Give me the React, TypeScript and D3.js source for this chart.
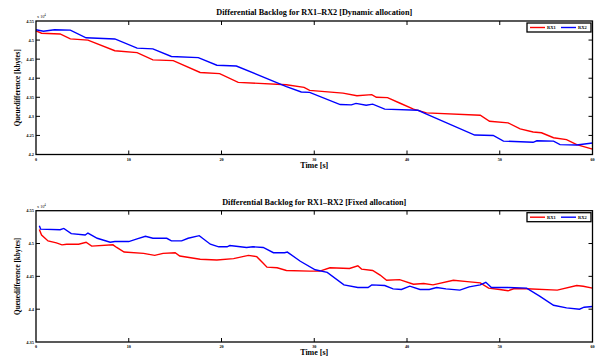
import * as d3 from "d3";
import React, { useEffect, useRef } from "react";

// Dynamic allocation (values x 10^4 kbytes)
const dynTimeRX1 = [0, 0.6, 2.6, 3.7, 5.6, 8.5, 10.9, 12.6, 14.8, 17.7, 19.8, 21.8, 27, 28.9, 29.5, 33.1, 34.6, 36.2, 36.7, 37.9, 39.2, 40.7, 42.1, 47.9, 48.9, 50.9, 52.2, 53.6, 54.5, 55.8, 57.2, 58.3, 60];
const dynRX1 = [4.524, 4.518, 4.516, 4.503, 4.5, 4.472, 4.467, 4.448, 4.446, 4.415, 4.412, 4.389, 4.383, 4.376, 4.368, 4.361, 4.354, 4.357, 4.35, 4.349, 4.335, 4.319, 4.309, 4.303, 4.287, 4.283, 4.267, 4.259, 4.257, 4.244, 4.239, 4.226, 4.214];
const dynTimeRX2 = [0, 0.8, 2, 3.7, 5.4, 8.5, 10.9, 12.6, 14.6, 17.5, 19.5, 21.6, 27, 28.6, 29.5, 32.8, 34.0, 34.5, 35.6, 36.3, 37.6, 41.2, 41.8, 47.3, 49.3, 50.4, 53.6, 54.0, 55.8, 56.5, 58.3, 60];
const dynRX2 = [4.527, 4.523, 4.527, 4.526, 4.506, 4.503, 4.479, 4.477, 4.457, 4.454, 4.434, 4.432, 4.378, 4.364, 4.363, 4.331, 4.33, 4.334, 4.329, 4.332, 4.319, 4.316, 4.309, 4.251, 4.25, 4.235, 4.232, 4.236, 4.235, 4.226, 4.225, 4.23];

// Fixed allocation (values x 10^4 kbytes)
const fixTimeRX1 = [0.36, 0.6, 1.3, 2.2, 2.8, 3.3, 4.6, 5.4, 6.0, 8.3, 8.7, 9.5, 11.6, 12.8, 13.7, 15.0, 15.5, 17.7, 19.5, 21.3, 22.9, 23.8, 24.5, 24.9, 26, 27, 29.5, 30.6, 31.7, 33.8, 34.7, 35.1, 36.3, 37.1, 37.8, 39.2, 40.7, 41.8, 42.8, 45.0, 46.5, 47.9, 48.8, 50.0, 50.9, 51.5, 52.9, 56.2, 58.3, 59.0, 60];
const fixRX1 = [4.5215, 4.513, 4.504, 4.501, 4.498, 4.499, 4.499, 4.502, 4.496, 4.498, 4.494, 4.487, 4.485, 4.482, 4.485, 4.486, 4.481, 4.476, 4.475, 4.477, 4.482, 4.48, 4.47, 4.464, 4.463, 4.459, 4.458, 4.458, 4.463, 4.462, 4.466, 4.461, 4.459, 4.452, 4.444, 4.445, 4.438, 4.439, 4.437, 4.444, 4.442, 4.44, 4.432, 4.43, 4.428, 4.431, 4.431, 4.429, 4.436, 4.435, 4.432];
const fixTimeRX2 = [0.36, 0.5, 2.6, 3.0, 3.8, 5.3, 5.6, 6.6, 8.0, 8.5, 10, 10.9, 11.8, 12.6, 14.1, 14.6, 15.7, 16.4, 17.6, 18.8, 19.7, 20.6, 20.9, 22.7, 23.4, 24.5, 25.6, 26.8, 27.1, 28.5, 30.1, 31.4, 33.2, 34.7, 35.8, 36.2, 37.6, 38.5, 39.4, 40.3, 41.4, 42.4, 43.2, 44.2, 45.7, 46.7, 47.9, 48.5, 49.1, 50.9, 52.9, 54.3, 55.8, 57.2, 58.6, 59.1, 60];
const fixRX2 = [4.527, 4.522, 4.521, 4.523, 4.515, 4.513, 4.516, 4.508, 4.502, 4.503, 4.503, 4.507, 4.511, 4.508, 4.508, 4.504, 4.504, 4.508, 4.512, 4.499, 4.495, 4.495, 4.497, 4.494, 4.495, 4.494, 4.486, 4.486, 4.487, 4.473, 4.46, 4.456, 4.437, 4.433, 4.433, 4.437, 4.436, 4.431, 4.43, 4.435, 4.43, 4.43, 4.433, 4.431, 4.429, 4.434, 4.437, 4.441, 4.433, 4.433, 4.432, 4.42, 4.406, 4.402, 4.4, 4.403, 4.404];

const xTicks = [0, 10, 20, 30, 40, 50, 60];
const dynYTicks = [4.2, 4.25, 4.3, 4.35, 4.4, 4.45, 4.5, 4.55];
const fixYTicks = [4.35, 4.4, 4.45, 4.5, 4.55];
const seriesNames = ["RX1", "RX2"];
const seriesColors = ["#ff0000", "#0000ff"];

const FONT = "'Liberation Serif', 'Times New Roman', serif";

interface PanelProps {
  top: number;
  bottom: number;
  title: string;
  yDomain: [number, number];
  yTicks: number[];
  t1: number[];
  v1: number[];
  t2: number[];
  v2: number[];
}

function Panel({ top, bottom, title, yDomain, yTicks, t1, v1, t2, v2 }: PanelProps) {
  const gRef = useRef<SVGGElement>(null);

  useEffect(() => {
    if (!gRef.current) return;
    const left = 36;
    const right = 592.5;
    const g = d3.select(gRef.current);
    g.selectAll("*").remove();

    const x = d3.scaleLinear([0, 60], [left, right]);
    const y = d3.scaleLinear(yDomain, [bottom, top]);

    // title
    g.append("text")
      .attr("x", (left + right) / 2)
      .attr("y", top - 6)
      .attr("text-anchor", "middle")
      .attr("font-family", FONT)
      .attr("font-weight", "bold")
      .attr("font-size", 8.2)
      .text(title);

    // exponent label
    g.append("text")
      .attr("x", left + 1)
      .attr("y", top - 3)
      .attr("font-family", FONT)
      .attr("font-size", 4.2)
      .text("x 10")
      .append("tspan")
      .attr("dy", -2)
      .attr("font-size", 3)
      .text("4");

    // lines
    const line = d3
      .line<[number, number]>()
      .x((d) => x(d[0]))
      .y((d) => y(d[1]));
    const sets: [number[], number[]][] = [
      [t1, v1],
      [t2, v2],
    ];
    sets.forEach(([ts, vs], i) => {
      g.append("path")
        .datum(ts.map((t, k) => [t, vs[k]] as [number, number]))
        .attr("fill", "none")
        .attr("stroke", seriesColors[i])
        .attr("stroke-width", 1.4)
        .attr("d", line);
    });

    // inward ticks on all sides
    const tl = 4;
    xTicks.slice(1, -1).forEach((t) => {
      g.append("line").attr("x1", x(t)).attr("x2", x(t)).attr("y1", bottom).attr("y2", bottom - tl).attr("stroke", "#000").attr("stroke-width", 1);
      g.append("line").attr("x1", x(t)).attr("x2", x(t)).attr("y1", top).attr("y2", top + tl).attr("stroke", "#000").attr("stroke-width", 1);
    });
    yTicks.slice(1, -1).forEach((v) => {
      g.append("line").attr("x1", left).attr("x2", left + tl).attr("y1", y(v)).attr("y2", y(v)).attr("stroke", "#000").attr("stroke-width", 1);
      g.append("line").attr("x1", right).attr("x2", right - tl).attr("y1", y(v)).attr("y2", y(v)).attr("stroke", "#000").attr("stroke-width", 1);
    });

    // frame
    g.append("rect")
      .attr("x", left)
      .attr("y", top)
      .attr("width", right - left)
      .attr("height", bottom - top)
      .attr("fill", "none")
      .attr("stroke", "#000")
      .attr("stroke-width", 1.3);

    // tick labels
    xTicks.forEach((t) => {
      g.append("text")
        .attr("x", x(t))
        .attr("y", bottom + 6)
        .attr("text-anchor", "middle")
        .attr("font-family", FONT)
        .attr("font-weight", "bold")
        .attr("font-size", 4.2)
        .text(String(t));
    });
    yTicks.forEach((v) => {
      g.append("text")
        .attr("x", left - 2)
        .attr("y", y(v) + 1.5)
        .attr("text-anchor", "end")
        .attr("font-family", FONT)
        .attr("font-weight", "bold")
        .attr("font-size", 4.4)
        .text(String(+v.toFixed(2)));
    });

    // axis labels
    g.append("text")
      .attr("x", (left + right) / 2)
      .attr("y", bottom + 13)
      .attr("text-anchor", "middle")
      .attr("font-family", FONT)
      .attr("font-weight", "bold")
      .attr("font-size", 8)
      .text("Time [s]");
    g.append("text")
      .attr("transform", `translate(20,${(top + bottom) / 2}) rotate(-90)`)
      .attr("text-anchor", "middle")
      .attr("font-family", FONT)
      .attr("font-weight", "bold")
      .attr("font-size", 7.2)
      .text("Queuedifference [kbytes]");

    // legend
    const lx = 527;
    const ly = top + 2;
    g.append("rect")
      .attr("x", lx)
      .attr("y", ly)
      .attr("width", 64)
      .attr("height", 9)
      .attr("fill", "#fff")
      .attr("stroke", "#000")
      .attr("stroke-width", 1.3);
    seriesNames.forEach((name, i) => {
      const ox = lx + 3 + i * 31;
      g.append("line")
        .attr("x1", ox)
        .attr("x2", ox + 15)
        .attr("y1", ly + 4.5)
        .attr("y2", ly + 4.5)
        .attr("stroke", seriesColors[i])
        .attr("stroke-width", 1.4);
      g.append("text")
        .attr("x", ox + 17)
        .attr("y", ly + 6)
        .attr("font-family", FONT)
        .attr("font-weight", "bold")
        .attr("font-size", 4.5)
        .text(name);
    });
  }, [top, bottom, title]);

  return <g ref={gRef} />;
}

export default function App() {
  return (
    <svg
      width={613}
      height={358}
      style={{ position: "absolute", left: 0, top: 0, background: "#fff" }}
    >
      <rect width={613} height={358} fill="#fff" />
      <Panel
        top={21}
        bottom={154.5}
        title="Differential Backlog for RX1–RX2 [Dynamic allocation]"
        yDomain={[4.2, 4.55]}
        yTicks={dynYTicks}
        t1={dynTimeRX1}
        v1={dynRX1}
        t2={dynTimeRX2}
        v2={dynRX2}
      />
      <Panel
        top={210.7}
        bottom={342}
        title="Differential Backlog for RX1–RX2 [Fixed allocation]"
        yDomain={[4.35, 4.55]}
        yTicks={fixYTicks}
        t1={fixTimeRX1}
        v1={fixRX1}
        t2={fixTimeRX2}
        v2={fixRX2}
      />
    </svg>
  );
}
